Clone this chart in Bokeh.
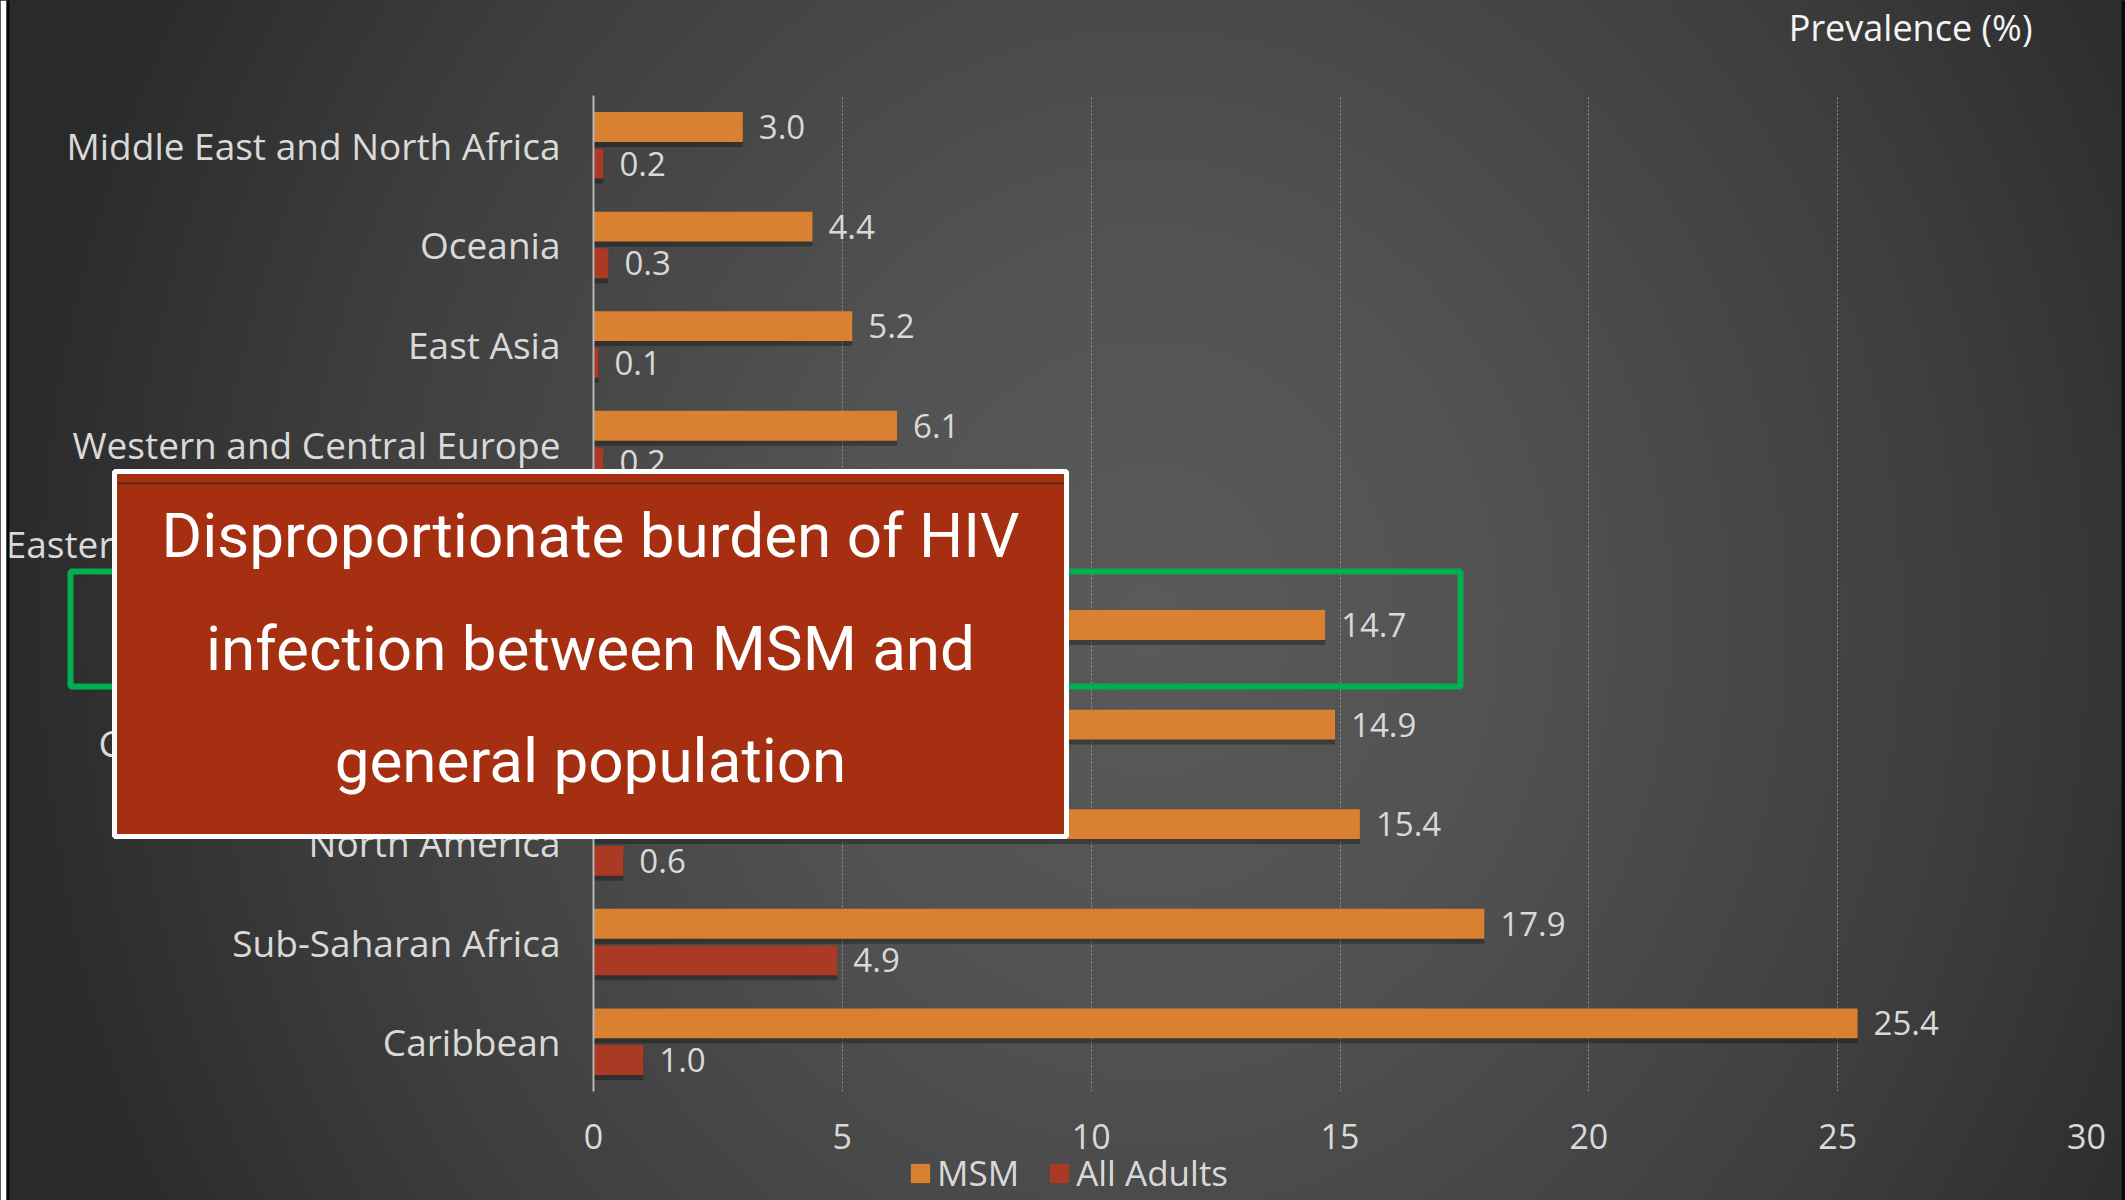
from bokeh.plotting import figure
from bokeh.models import (ColumnDataSource, FactorRange, Label, BoxAnnotation,
                          Legend, LegendItem, FixedTicker, Range1d)
from bokeh.transform import dodge
from bokeh.core.properties import value
from bokeh.embed import file_html
from bokeh.resources import INLINE

# ---------------- data ----------------
regions = ["Middle East and North Africa", "Oceania", "East Asia",
           "Western and Central Europe", "Eastern Europe and Central Asia",
           "South and Southeast Asia", "Central and South America",
           "North America", "Sub-Saharan Africa", "Caribbean"]
msm = [3.0, 4.4, 5.2, 6.1, 6.6, 14.7, 14.9, 15.4, 17.9, 25.4]
all_adults = [0.2, 0.3, 0.1, 0.2, 0.8, 0.3, 0.4, 0.6, 4.9, 1.0]
series = ["MSM", "All Adults"]
x_ticks = [0, 5, 10, 15, 20, 25, 30]
x_title = "Prevalence (%)"
box_lines = ["Disproportionate burden of HIV",
             "infection between MSM and",
             "general population"]

# ---------------- style ----------------
MSM_C = "#D98031"
AA_C = "#AA3A24"
TXT = "#d9d9d9"
FONT = "Open Sans"
W, H = 2125, 1200

src = ColumnDataSource(dict(
    region=regions, msm=msm, aa=all_adults,
    msm_lbl=[f"{v:.1f}" for v in msm],
    aa_lbl=[f"{v:.1f}" for v in all_adults],
))

p = figure(width=W, height=H,
           y_range=FactorRange(*regions[::-1]),
           x_range=Range1d(0, 30),
           output_backend="svg", toolbar_location=None,
           min_border_left=593, min_border_right=39,
           min_border_top=95, min_border_bottom=109)

p.styles = {"background": "radial-gradient(ellipse 1150px 1300px at 1150px 620px, "
                          "#5a5a5a 0%, #525252 30%, #3e3e3e 70%, #2a2a2a 100%)"}
p.border_fill_alpha = 0
p.background_fill_alpha = 0
p.outline_line_color = None

OFF = 0.184
BH = 0.30
# soft drop shadows
p.hbar(y=dodge("region", OFF - 0.05, range=p.y_range), left=0, right="msm", height=BH,
       source=src, fill_color="black", fill_alpha=0.3, line_color=None)
p.hbar(y=dodge("region", -OFF - 0.05, range=p.y_range), left=0, right="aa", height=BH,
       source=src, fill_color="black", fill_alpha=0.3, line_color=None)

r1 = p.hbar(y=dodge("region", OFF, range=p.y_range), left=0, right="msm", height=BH,
            source=src, fill_color=MSM_C, line_color=None)
r2 = p.hbar(y=dodge("region", -OFF, range=p.y_range), left=0, right="aa", height=BH,
            source=src, fill_color=AA_C, line_color=None)

p.text(x="msm", y=dodge("region", OFF, range=p.y_range), text="msm_lbl", source=src,
       x_offset=16, text_baseline="middle", text_align="left",
       text_font=value(FONT), text_font_size="33px", text_color=TXT)
p.text(x="aa", y=dodge("region", -OFF, range=p.y_range), text="aa_lbl", source=src,
       x_offset=16, text_baseline="middle", text_align="left",
       text_font=value(FONT), text_font_size="33px", text_color=TXT)

# axes
p.xaxis.ticker = FixedTicker(ticks=x_ticks)
p.xaxis.axis_line_color = None
p.xaxis.major_tick_line_color = None
p.xaxis.minor_tick_line_color = None
p.xaxis.major_label_standoff = 26
p.xaxis.major_label_text_font = FONT
p.xaxis.major_label_text_font_size = "34px"
p.xaxis.major_label_text_color = TXT

p.yaxis.axis_line_color = "#b5b5b5"
p.yaxis.axis_line_width = 2
p.yaxis.major_tick_line_color = None
p.yaxis.minor_tick_line_color = None
p.yaxis.major_label_standoff = 27
p.yaxis.major_label_text_font = FONT
p.yaxis.major_label_text_font_size = "37px"
p.yaxis.major_label_text_color = TXT

p.ygrid.grid_line_color = None
p.xgrid.ticker = FixedTicker(ticks=x_ticks)
p.xgrid.grid_line_color = "#a0a0a0"
p.xgrid.grid_line_dash = "2 2"
p.xgrid.grid_line_width = 1
p.xgrid.grid_line_alpha = 0.8

# ---------------- overlay (callout box, highlight, caption, legend) ----------------
ov = figure(width=W, height=H, x_range=Range1d(0, W), y_range=Range1d(H, 0),
            x_axis_type=None, y_axis_type=None, output_backend="svg",
            toolbar_location=None, min_border=0)
ov.border_fill_alpha = 0
ov.background_fill_alpha = 0
ov.outline_line_color = None
ov.grid.visible = False
ov.styles = {"position": "absolute", "top": "0px", "left": "0px", "z-index": "5"}

# legend swatches (series colours); the proxy glyphs sit outside the visible canvas
e1 = ov.rect(x=[-500], y=[-500], width=1, height=1, fill_color=MSM_C, line_color=None)
e2 = ov.rect(x=[-500], y=[-500], width=1, height=1, fill_color=AA_C, line_color=None)
legend = Legend(items=[LegendItem(label=series[0], renderers=[e1]),
                       LegendItem(label=series[1], renderers=[e2])],
                orientation="horizontal", location=(908, 4),
                glyph_width=24, glyph_height=24, label_standoff=5, spacing=28,
                label_text_font=FONT, label_text_font_size="35px",
                label_text_color=TXT, background_fill_alpha=0,
                border_line_alpha=0, padding=0, margin=0)
ov.add_layout(legend, "center")

ov.add_layout(Label(x=2032, y=27, text=x_title,
                    text_align="right", text_baseline="middle",
                    text_font=FONT, text_font_size="36px", text_color="#f4f4f4"))

# slide edges
ov.add_layout(BoxAnnotation(left=0, right=6, top=0, bottom=H, fill_color="white",
                            fill_alpha=1, line_alpha=0))
ov.add_layout(BoxAnnotation(left=6, right=9, top=0, bottom=H, fill_color="#0a0a0a",
                            fill_alpha=1, line_alpha=0))
ov.add_layout(BoxAnnotation(left=W - 4, right=W, top=0, bottom=H, fill_color="#0a0a0a",
                            fill_alpha=1, line_alpha=0))

ov.add_layout(BoxAnnotation(left=70, right=1460, top=571, bottom=686,
                            fill_alpha=0, line_color="#00B050", line_alpha=1,
                            line_width=6))
ov.add_layout(BoxAnnotation(left=114, right=1066, top=471, bottom=836,
                            fill_color="#A52F10", fill_alpha=1,
                            line_color="white", line_alpha=1, line_width=5))
ov.add_layout(BoxAnnotation(left=117, right=1063, top=482, bottom=484,
                            fill_color="#5e2414", fill_alpha=1, line_alpha=0))
for i, t in enumerate(box_lines):
    ov.add_layout(Label(x=590, y=535 + 112.5 * i, text=t,
                        text_align="center", text_baseline="middle",
                        text_font="Roboto", text_font_size="62px",
                        text_color="white"))

open("out.html", "w").write(file_html([p, ov], INLINE))
